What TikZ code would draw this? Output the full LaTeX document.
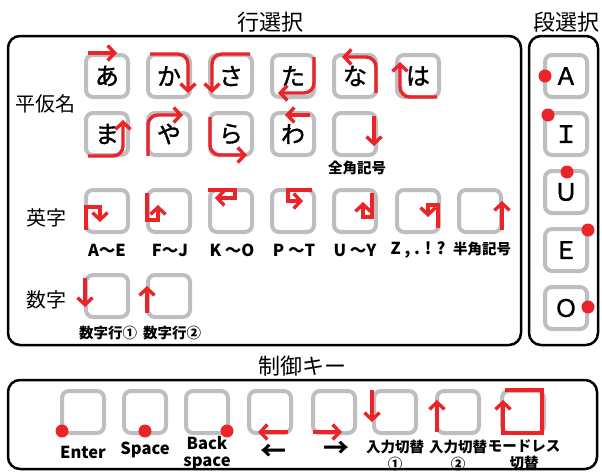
\documentclass[tikz,border=0pt]{standalone}
\usepackage{fontspec}
\setmainfont{Noto Sans CJK JP}
\newfontfamily\kanafont{Noto Sans CJK JP}[FakeBold=1.5]
\usetikzlibrary{arrows.meta}
\definecolor{myred}{RGB}{234,36,40}
\definecolor{keygray}{RGB}{190,190,192}
\newcommand\keyarrow[3][]{\begin{scope}[shift={(#2.center)}]\draw[rarr,#1] #3;\end{scope}}
\begin{document}
\begin{tikzpicture}[x=1pt,y=-1pt,
  keybox/.style={draw=keygray, line width=4pt, rounded corners=7pt, fill=white, minimum size=42pt, inner sep=0pt, font=\kanafont\fontsize{24}{24}\selectfont},
  rarr/.style={draw=myred, line width=3.4pt, -{Straight Barb[length=7pt,width=15pt]}},
  rdot/.style={circle, fill=myred, minimum size=13pt, inner sep=0pt},
  frm/.style={draw=black, line width=2.5pt, rounded corners=12pt},
  lab/.style={font=\bfseries\fontsize{14.5}{17}\selectfont, inner sep=0pt, align=center},
  blab/.style={font=\bfseries\fontsize{16.5}{17}\selectfont, inner sep=0pt, align=center},
  arlab/.style={font=\bfseries\fontsize{26}{26}\selectfont, inner sep=0pt},
  side/.style={font=\fontsize{20}{20}\selectfont, inner sep=0pt},
  ttl/.style={font=\fontsize{22}{22}\selectfont, inner sep=0pt}]
\useasboundingbox (0,0) rectangle (602,472);
% frames
\draw[frm] (8,36) rectangle (521,345);
\draw[frm] (529,36) rectangle (598,345);
\draw[frm] (8,380) rectangle (597,469);
% titles
\node[ttl] (t1) at (270,22) {行選択};
\node[ttl] (t2) at (566,22) {段選択};
\node[ttl] (t3) at (302,366) {制御キー};
% side labels
\node[side] (s1) at (46,104) {平仮名};
\node[side] (s2) at (46,218) {英字};
\node[side] (s3) at (46,300) {数字};
% hiragana keys
\node[keybox] (ka1) at (107,76) {あ};
\node[keybox] (ka2) at (169,76) {か};
\node[keybox] (ka3) at (231,76) {さ};
\node[keybox] (ka4) at (293,76) {た};
\node[keybox] (ka5) at (355,76) {な};
\node[keybox] (ka6) at (418,76) {は};
\node[keybox] (kb1) at (107,134) {ま};
\node[keybox] (kb2) at (169,134) {や};
\node[keybox] (kb3) at (231,134) {ら};
\node[keybox] (kb4) at (293,134) {わ};
\node[keybox] (kb5) at (355,134) {};
\node[lab] (l0) at (357,168) {全角記号};
% english keys
\node[keybox] (kc1) at (107,211) {};
\node[keybox] (kc2) at (169,211) {};
\node[keybox] (kc3) at (231,211) {};
\node[keybox] (kc4) at (293,211) {};
\node[keybox] (kc5) at (355,211) {};
\node[keybox] (kc6) at (418,211) {};
\node[keybox] (kc7) at (480,211) {};
\node[blab] (lc1) at (107,250) {A～E};
\node[blab] (lc2) at (170,250) {F～J};
\node[blab] (lc3) at (232,250) {K ～O};
\node[blab] (lc4) at (294,250) {P ～T};
\node[blab] (lc5) at (355,250) {U ～Y};
\node[blab] (lc6) at (418,250) {Z , . ! ?};
\node[lab] (lc7) at (482,249) {半角記号};
% number keys
\node[keybox] (kd1) at (107,296) {};
\node[keybox] (kd2) at (169,296) {};
\node[lab] (ld1) at (108,333) {数字行①};
\node[lab] (ld2) at (172,333) {数字行②};
% dan keys
\node[keybox] (ke1) at (566,76) {Ａ};
\node[keybox] (ke2) at (566,134) {Ｉ};
\node[keybox] (ke3) at (566,192) {Ｕ};
\node[keybox] (ke4) at (566,250) {Ｅ};
\node[keybox] (ke5) at (566,308) {Ｏ};
% control keys
\node[keybox] (kf1) at (83,412) {};
\node[keybox] (kf2) at (145,412) {};
\node[keybox] (kf3) at (207,412) {};
\node[keybox] (kf4) at (270,412) {};
\node[keybox] (kf5) at (334,412) {};
\node[keybox] (kf6) at (395,412) {};
\node[keybox] (kf7) at (458,412) {};
\node[keybox] (kf8) at (523,412) {};
\node[blab] (lf1) at (83,452) {Enter};
\node[blab] (lf2) at (145,450) {Space};
\node[blab] (lf3) at (207,453) {Back\\space};
\node[arlab] (lf4) at (273,452) {←};
\node[arlab] (lf5) at (336,449) {→};
\node[lab] (lf6) at (395,455) {入力切替\\①};
\node[lab] (lf7) at (458,455) {入力切替\\②};
\node[lab] (lf8) at (524,455) {モードレス\\切替};
% hiragana arrows
\keyarrow{ka1}{(-19,-23) -- (10,-23)}
\keyarrow[rounded corners=10pt]{ka2}{(-19,-22) -- (19,-22) -- (19,17)}
\keyarrow[rounded corners=10pt]{ka3}{(19,-22) -- (-19,-22) -- (-19,17)}
\keyarrow[rounded corners=10pt]{ka4}{(21,-19) -- (21,17) -- (-15,17)}
\keyarrow[rounded corners=10pt]{ka5}{(21,17) -- (21,-19) -- (-13,-19)}
\keyarrow[rounded corners=10pt]{ka6}{(19,21) -- (-18,21) -- (-18,-14)}
\keyarrow[rounded corners=10pt]{kb1}{(-19,22) -- (16,22) -- (16,-14)}
\keyarrow[rounded corners=10pt]{kb2}{(-21,22) -- (-21,-19) -- (14,-19)}
\keyarrow[rounded corners=10pt]{kb3}{(-21,-17) -- (-21,21) -- (16,21)}
\keyarrow{kb4}{(17,-19) -- (-8,-19)}
\keyarrow{kb5}{(19,-18) -- (19,12)}
% english arrows
\keyarrow{kc1}{(-21,19) -- (-21,-4) -- (-7,-4) -- (-7,11)}
\keyarrow{kc2}{(-22,-18) -- (-22,9) -- (-11,9) -- (-11,-6)}
\keyarrow{kc3}{(-23,-21) -- (4,-21) -- (4,-13) -- (-16,-13)}
\keyarrow{kc4}{(19,-21) -- (-5,-21) -- (-5,-10) -- (10,-10)}
\keyarrow{kc5}{(17,-18) -- (17,6) -- (8,6) -- (8,-9)}
\keyarrow{kc6}{(20,17) -- (20,-6) -- (10,-6) -- (10,6)}
\keyarrow{kc7}{(22,19) -- (22,-10)}
% number arrows
\keyarrow{kd1}{(-22,-18) -- (-22,11)}
\keyarrow{kd2}{(-22,17) -- (-22,-10)}
% dan dots
\node[rdot] (de1) at ([shift={(-21,0)}]ke1.center) {};
\node[rdot] (de2) at ([shift={(-18,-19)}]ke2.center) {};
\node[rdot] (de3) at ([shift={(1,-20)}]ke3.center) {};
\node[rdot] (de4) at ([shift={(22,-20)}]ke4.center) {};
\node[rdot] (de5) at ([shift={(22,-1)}]ke5.center) {};
% control dots and arrows
\node[rdot] (df1) at ([shift={(-21,19)}]kf1.center) {};
\node[rdot] (df2) at ([shift={(0,19)}]kf2.center) {};
\node[rdot] (df3) at ([shift={(20,19)}]kf3.center) {};
\keyarrow{kf4}{(18,20) -- (-12,20)}
\keyarrow{kf5}{(-21,20) -- (8,20)}
\keyarrow{kf6}{(-23,-22) -- (-23,10)}
\keyarrow{kf7}{(-21,20) -- (-21,-12)}
\keyarrow[line join=miter]{kf8}{(-18,-22) -- (19,-22) -- (19,21) -- (-20,21) -- (-20,-12)}
\end{tikzpicture}
\end{document}
